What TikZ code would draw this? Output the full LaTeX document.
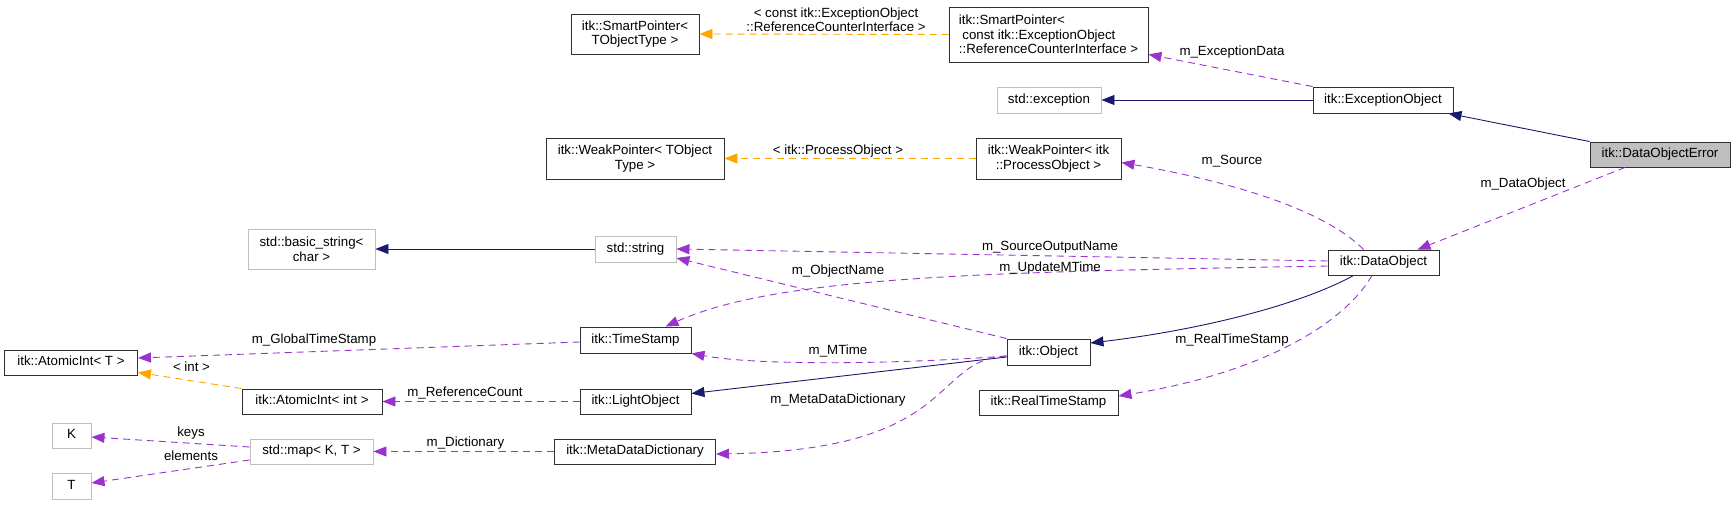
\documentclass[tikz,border=0pt]{standalone}
\usepackage{fontspec}
\setmainfont{Liberation Sans}
\usetikzlibrary{arrows.meta}
\definecolor{inhblue}{HTML}{191970}
\definecolor{usepurple}{HTML}{9A32CD}
\definecolor{tmplorange}{HTML}{FFA500}
\definecolor{greyborder}{HTML}{BFBFBF}
\definecolor{boxline}{HTML}{303030}
\tikzset{
  txt/.style={font=\fontsize{13.3}{14.5}\selectfont},
  box/.style={txt, draw=boxline, line width=0.9pt, inner sep=0pt, fill=white},
  gbox/.style={box, draw=greyborder},
  one/.style={text height=9.6pt, text depth=2.9pt},
  lbl/.style={txt, inner sep=0pt, text height=9.6pt, text depth=2.9pt},
  arrowtip/.style={-{Triangle[length=13pt,width=10pt]}},
  inh/.style={draw=inhblue, line width=0.9pt, arrowtip},
  use/.style={draw=usepurple, line width=0.9pt, dash pattern=on 7pt off 5pt, arrowtip},
  tmpl/.style={draw=tmplorange, line width=0.9pt, dash pattern=on 7pt off 5pt, arrowtip}
}
\begin{document}
\begin{tikzpicture}[x=1pt,y=-1pt]
\useasboundingbox (0,0) rectangle (1735,505);

% nodes
\node[box, minimum width=128pt, minimum height=40pt, align=center] (spT) at (635,34) {itk::SmartPointer<\\TObjectType >};
\node[box, minimum width=199pt, minimum height=55pt, align=left] (spC) at (1048.5,34.5) {itk::SmartPointer<\\\hspace*{3.5pt}const itk::ExceptionObject\\::ReferenceCounterInterface >};
\node[gbox, one, minimum width=104pt, minimum height=26pt] (stdexc) at (1049,100) {std::exception};
\node[box, one, minimum width=140pt, minimum height=26pt] (excobj) at (1383,100) {itk::ExceptionObject};
\node[box, one, minimum width=140pt, minimum height=25pt, fill=greyborder] (doe) at (1660,154.5) {itk::DataObjectError};
\node[box, minimum width=178pt, minimum height=41pt, align=center] (wpT) at (635,158.5) {itk::WeakPointer< TObject\\Type >};
\node[box, minimum width=145pt, minimum height=41pt, align=center] (wpP) at (1048.5,158.5) {itk::WeakPointer< itk\\::ProcessObject >};
\node[gbox, minimum width=127pt, minimum height=40pt, align=center] (bstr) at (311.5,249) {std::basic\_string<\\char >};
\node[gbox, one, minimum width=81pt, minimum height=26pt] (str) at (635.5,249) {std::string};
\node[box, one, minimum width=111pt, minimum height=25pt] (dobj) at (1383.5,262.5) {itk::DataObject};
\node[box, one, minimum width=111pt, minimum height=26pt] (ts) at (635.5,340) {itk::TimeStamp};
\node[box, one, minimum width=83pt, minimum height=26pt] (obj) at (1048.5,352) {itk::Object};
\node[box, one, minimum width=133pt, minimum height=25pt] (aiT) at (71,362.5) {itk::AtomicInt< T >};
\node[box, one, minimum width=140pt, minimum height=25pt] (aiInt) at (312,401.5) {itk::AtomicInt< int >};
\node[box, one, minimum width=111pt, minimum height=25pt] (lo) at (635.5,401.5) {itk::LightObject};
\node[box, one, minimum width=139pt, minimum height=25pt] (rts) at (1048.5,402.5) {itk::RealTimeStamp};
\node[gbox, one, minimum width=39pt, minimum height=25pt] (K) at (71.5,435.5) {K};
\node[gbox, one, minimum width=123pt, minimum height=25pt] (map) at (311.5,451.5) {std::map< K, T >};
\node[box, one, minimum width=161pt, minimum height=25pt] (mdd) at (635,451.5) {itk::MetaDataDictionary};
\node[gbox, one, minimum width=39pt, minimum height=26pt] (T) at (71.5,486) {T};

% edges
\draw[inh] (doe.north west) -- ([xshift=-5pt]excobj.south east);
\draw[inh] (excobj.west) -- (stdexc.east);
\draw[use] (excobj.north west) -- ([yshift=8pt]spC.south east);
\draw[tmpl] (spC.west) -- (spT.east);
\draw[use] ([xshift=-35pt]doe.south) -- ([xshift=34pt]dobj.north);
\draw[use] ([xshift=-20pt]dobj.north) .. controls (1330,215) and (1250,185) .. ([yshift=-4pt]wpP.east);
\draw[use] ([yshift=1.5pt]dobj.west) -- (str.east);
\draw[use] ([yshift=-3.5pt]dobj.west) .. controls (1000,272) and (780,275) .. ([xshift=30pt]ts.north);
\draw[use] (obj.north west) -- ([yshift=-9pt]str.east);
\draw[use] ([yshift=-4pt]obj.west) .. controls (900,364) and (760,366) .. (ts.south east);
\draw[inh] ([yshift=-5pt]obj.west) -- ([yshift=8pt]lo.east);
\draw[use] ([yshift=-4pt]obj.west) .. controls (930,360) and (960,450) .. ([yshift=-2.5pt]mdd.east);
\draw[inh] ([xshift=-30pt]dobj.south) .. controls (1300,305) and (1200,330) .. ([yshift=9pt]obj.east);
\draw[use] ([xshift=-11.5pt]dobj.south) .. controls (1340,330) and (1250,375) .. ([yshift=6.5pt]rts.east);
\draw[inh] (str.west) -- (bstr.east);
\draw[tmpl] (wpP.west) -- (wpT.east);
\draw[use] ([yshift=-2pt]ts.west) -- ([yshift=4.5pt]aiT.east);
\draw[tmpl] (aiInt.north west) -- ([yshift=3pt]aiT.south east);
\draw[use] (lo.west) -- (aiInt.east);
\draw[use] (mdd.west) -- (map.east);
\draw[use] ([yshift=4.5pt]map.west) -- ([yshift=-1.5pt]K.east);
\draw[use] ([yshift=-8.5pt]map.west) -- ([yshift=3pt]T.east);

% labels
\node[txt, inner sep=0pt, align=center] (l1) at (836,19.5) {< const itk::ExceptionObject\\::ReferenceCounterInterface >};
\node[lbl] (l2) at (1232,52) {m\_ExceptionData};
\node[lbl] (l3) at (1523,184) {m\_DataObject};
\node[lbl] (l4) at (838,151) {< itk::ProcessObject >};
\node[lbl] (l5) at (1232,161) {m\_Source};
\node[lbl] (l6) at (1050,247) {m\_SourceOutputName};
\node[lbl] (l7) at (1050,268) {m\_UpdateMTime};
\node[lbl] (l8) at (838,271) {m\_ObjectName};
\node[lbl] (l9) at (1232,340) {m\_RealTimeStamp};
\node[lbl] (l10) at (314,340) {m\_GlobalTimeStamp};
\node[lbl] (l11) at (838,351) {m\_MTime};
\node[lbl] (l12) at (191.5,368) {< int >};
\node[lbl] (l13) at (465,393) {m\_ReferenceCount};
\node[lbl] (l14) at (838,400) {m\_MetaDataDictionary};
\node[lbl] (l15) at (465.5,443) {m\_Dictionary};
\node[lbl] (l16) at (191,433) {keys};
\node[lbl] (l17) at (191,457) {elements};
\end{tikzpicture}
\end{document}
